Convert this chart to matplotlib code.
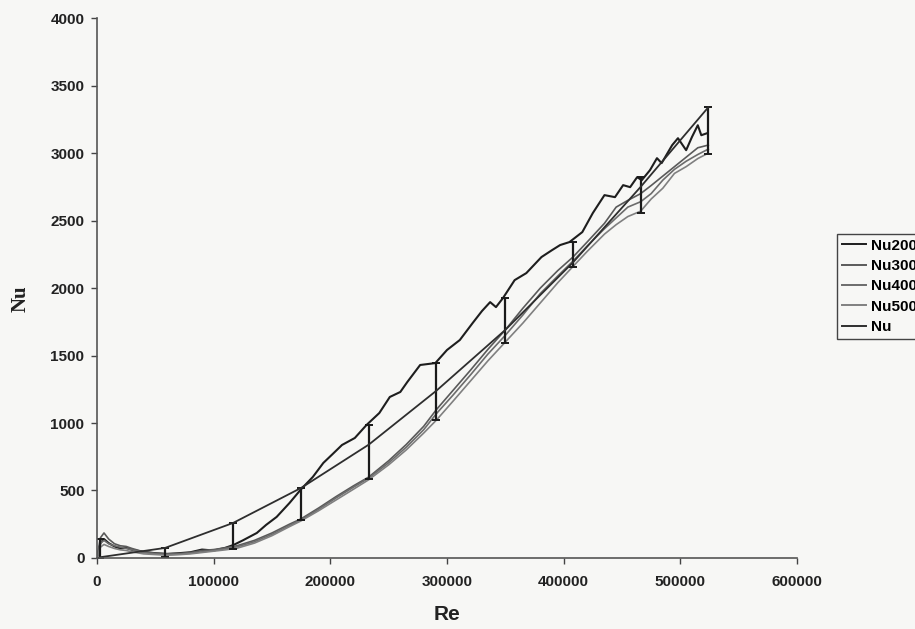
import numpy as np
import matplotlib
matplotlib.use("Agg")
import matplotlib.pyplot as plt

# Nu200 (black, noisy, upper curve)
re200 = [0, 3000, 6000, 10000, 15000, 20000, 25000, 30000, 40000, 50000,
         60000, 70000, 80000, 90000, 100000, 110000, 117000, 125000, 137000, 145000,
         154000, 165000, 175000, 185000, 194000, 202000, 210000, 221000, 231000, 242000,
         251000, 260000, 266000, 277000, 290000, 300000, 311000, 322000, 330000, 337000,
         342000, 348000, 358000, 368000, 381000, 390000, 397000, 405000, 416000, 425000,
         435000, 444000, 451000, 457000, 463000, 467000, 474000, 480000, 484000, 493000,
         498000, 505000, 510000, 515000, 518000, 523000]
nu200 = [0, 110, 140, 110, 85, 70, 75, 60, 45, 35,
         30, 35, 42, 62, 55, 75, 96, 130, 185, 245,
         304, 407, 510, 600, 704, 770, 837, 889, 985, 1074,
         1193, 1230, 1304, 1430, 1444, 1541, 1615, 1741, 1830, 1896,
         1859, 1926, 2059, 2111, 2230, 2281, 2319, 2341, 2415, 2556,
         2689, 2674, 2763, 2748, 2822, 2800, 2874, 2963, 2926, 3059,
         3111, 3022, 3120, 3207, 3133, 3148]

# Nu300 / Nu400 / Nu500 (grey, close together, lower curves)
re_lo = [0, 3000, 6000, 10000, 15000, 20000, 25000, 30000, 40000, 50000,
         60000, 70000, 80000, 90000, 100000, 110000, 120000, 135000, 150000, 165000,
         175000, 190000, 205000, 220000, 233000, 250000, 265000, 280000, 291000, 305000,
         320000, 335000, 350000, 365000, 380000, 395000, 408000, 420000, 435000, 445000,
         455000, 466000, 475000, 485000, 495000, 505000, 515000, 524000]
nu300 = [0, 150, 185, 140, 105, 90, 85, 70, 45, 35,
         30, 32, 40, 55, 62, 75, 90, 130, 185, 250,
         290, 370, 455, 535, 600, 720, 840, 975, 1100, 1240,
         1390, 1545, 1690, 1850, 2000, 2130, 2230, 2340, 2480, 2600,
         2650, 2700, 2760, 2830, 2900, 2970, 3040, 3060]
nu400 = [0, 110, 130, 105, 90, 80, 70, 60, 40, 30,
         25, 28, 35, 45, 55, 68, 82, 120, 175, 240,
         282, 360, 445, 525, 592, 705, 820, 950, 1070, 1205,
         1355, 1510, 1650, 1800, 1960, 2090, 2200, 2310, 2440, 2520,
         2600, 2640, 2700, 2800, 2880, 2940, 2990, 3030]
nu500 = [0, 80, 100, 85, 70, 60, 55, 45, 30, 25,
         20, 24, 30, 40, 50, 60, 72, 110, 165, 232,
         275, 350, 430, 510, 580, 690, 800, 925, 1022, 1160,
         1310, 1460, 1600, 1740, 1890, 2040, 2160, 2270, 2400, 2470,
         2530, 2570, 2660, 2740, 2850, 2900, 2960, 3000]

# Nu (smooth correlation) with error bars
re_nu = [2500, 58300, 116600, 175000, 233000, 291000, 350000, 408000, 466000, 524000]
nu_val = [5, 74, 259, 519, 840, 1240, 1690, 2190, 2750, 3340]
nu_lo = [0, 7, 67, 281, 585, 1022, 1593, 2156, 2556, 2993]
nu_hi = [140, 74, 259, 519, 985, 1444, 1926, 2341, 2822, 3341]

C = {"Nu200": "#1e1e1e", "Nu300": "#5a5a5a", "Nu400": "#6c6c6c",
     "Nu500": "#808080", "Nu": "#2e2e2e"}
BG = "#f7f7f5"


def main():
    plt.rcParams["font.family"] = ["Liberation Sans", "DejaVu Sans"]

    fig = plt.figure(figsize=(9.15, 6.29), dpi=100, facecolor=BG)
    ax = fig.add_axes([0.106, 0.113, 0.765, 0.858])
    ax.set_facecolor(BG)

    ax.plot(re200, nu200, color=C["Nu200"], lw=1.5, label="Nu200")
    ax.plot(re_lo, nu300, color=C["Nu300"], lw=1.2, label="Nu300")
    ax.plot(re_lo, nu400, color=C["Nu400"], lw=1.2, label="Nu400")
    ax.plot(re_lo, nu500, color=C["Nu500"], lw=1.2, label="Nu500")

    val = np.array(nu_val)
    yerr = [val - np.array(nu_lo), np.array(nu_hi) - val]
    ax.errorbar(re_nu, nu_val, yerr=yerr, color=C["Nu"], lw=1.3,
                ecolor="#1a1a1a", elinewidth=1.6, capsize=3, capthick=1.4)

    ax.set_xlim(0, 600000)
    ax.set_ylim(0, 4000)
    ax.set_xticks(np.arange(0, 600001, 100000))
    ax.set_yticks(np.arange(0, 4001, 500))
    ax.tick_params(direction="out", length=4, width=1, colors="#444444",
                   labelcolor="#222222", labelsize=11)
    for lab in ax.get_xticklabels() + ax.get_yticklabels():
        lab.set_fontweight("bold")
    ax.tick_params(axis="x", pad=8)
    ax.tick_params(axis="y", pad=5)

    for side in ["top", "right"]:
        ax.spines[side].set_visible(False)
    for side in ["left", "bottom"]:
        ax.spines[side].set_color("#555555")
        ax.spines[side].set_linewidth(1.2)

    ax.set_xlabel("Re", fontsize=15, fontweight="bold", color="#222222", labelpad=12)
    ax.set_ylabel("Nu", fontsize=15, fontweight="bold", color="#222222",
                  family=["Liberation Serif", "DejaVu Serif"])
    ax.yaxis.set_label_coords(-0.095, 0.48)

    # legend: same line styles, Nu shown as a plain line like Excel does
    names = ["Nu200", "Nu300", "Nu400", "Nu500", "Nu"]
    handles = [plt.Line2D([], [], color=C[n], lw=1.4) for n in names]
    leg = fig.legend(handles, names, loc="upper left",
                     bbox_to_anchor=(837 / 915, 1 - 234 / 629),
                     frameon=True, fancybox=False, framealpha=1,
                     edgecolor="#444444", facecolor=BG,
                     prop={"weight": "bold", "size": 11},
                     handlelength=1.6, handletextpad=0.3,
                     labelspacing=0.42, borderpad=0.3, borderaxespad=0)
    leg.get_frame().set_linewidth(1.0)

    fig.savefig("out.png", dpi=100, facecolor=BG)
    plt.close(fig)


if __name__ == "__main__":
    main()
